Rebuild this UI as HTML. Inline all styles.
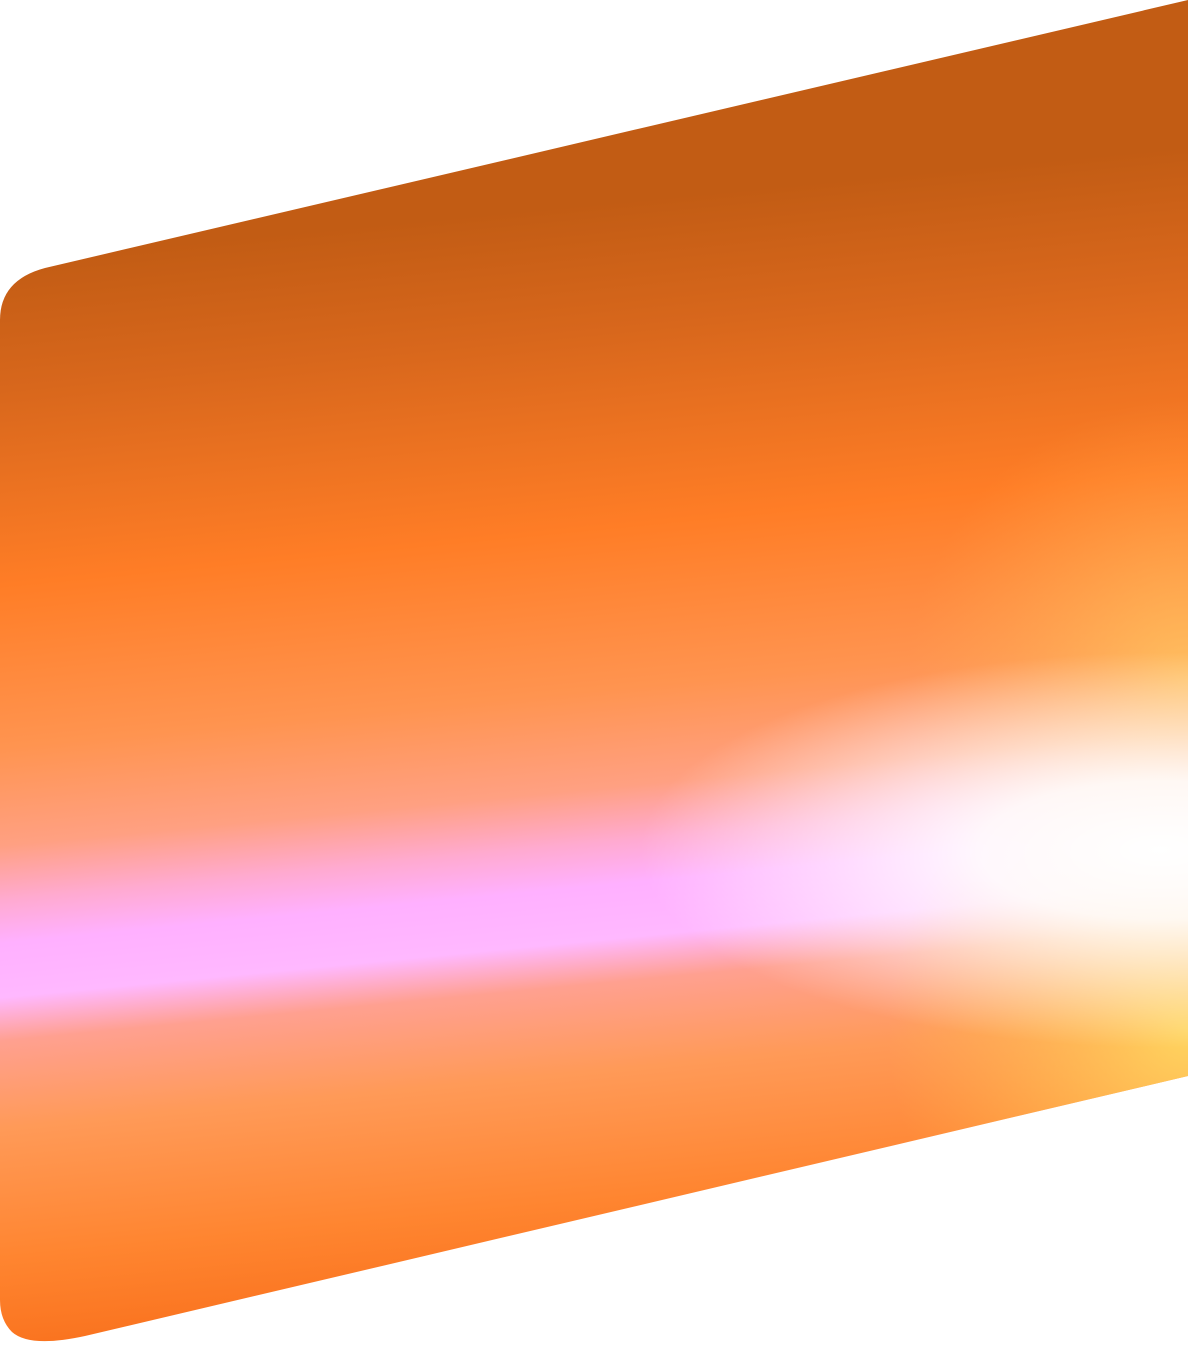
<!DOCTYPE html>
<html>
<head>
<meta charset="utf-8">
<style>
  html,body{margin:0;padding:0;background:#fff;}
  svg{display:block;}
</style>
</head>
<body>
<svg width="1188" height="1356" viewBox="0 0 1188 1356" xmlns="http://www.w3.org/2000/svg">
  <defs>
    <linearGradient id="base" gradientUnits="userSpaceOnUse" x1="0" y1="260" x2="0" y2="1345" gradientTransform="skewY(-5.5)">
      <stop offset="0" stop-color="#c25c14"/>
      <stop offset="0.12" stop-color="#d8671c"/>
      <stop offset="0.30" stop-color="#ff7d26"/>
      <stop offset="0.45" stop-color="#ff9450"/>
      <stop offset="0.54" stop-color="#ffa082"/>
      <stop offset="0.59" stop-color="#ffaad0"/>
      <stop offset="0.63" stop-color="#ffb0ff"/>
      <stop offset="0.68" stop-color="#ffb8ff"/>
      <stop offset="0.72" stop-color="#ffa090"/>
      <stop offset="0.80" stop-color="#ff9a58"/>
      <stop offset="0.92" stop-color="#ff8530"/>
      <stop offset="1" stop-color="#fa7420"/>
    </linearGradient>
    <radialGradient id="glow" gradientUnits="userSpaceOnUse" cx="1160" cy="850" r="520" gradientTransform="translate(1160 850) scale(1 0.38) translate(-1160 -850)">
      <stop offset="0" stop-color="#ffffff" stop-opacity="1"/>
      <stop offset="0.35" stop-color="#ffffff" stop-opacity="0.9"/>
      <stop offset="1" stop-color="#ffffff" stop-opacity="0"/>
    </radialGradient>
    <radialGradient id="yellow1" gradientUnits="userSpaceOnUse" cx="1188" cy="1030" r="300">
      <stop offset="0" stop-color="#ffd860" stop-opacity="0.95"/>
      <stop offset="1" stop-color="#ffc050" stop-opacity="0"/>
    </radialGradient>
    <radialGradient id="yellow2" gradientUnits="userSpaceOnUse" cx="1188" cy="680" r="280">
      <stop offset="0" stop-color="#ffd060" stop-opacity="0.7"/>
      <stop offset="1" stop-color="#ffb050" stop-opacity="0"/>
    </radialGradient>
    <clipPath id="shape">
      <path d="M0 320 Q0 280 45 268 L1188 0 L1188 1076 L85 1336 Q30 1348 12 1332 Q0 1320 0 1300 Z"/>
    </clipPath>
  </defs>
  <g clip-path="url(#shape)">
    <rect x="0" y="0" width="1188" height="1356" fill="url(#base)"/>
    <rect x="0" y="0" width="1188" height="1356" fill="url(#yellow2)"/>
    <rect x="0" y="0" width="1188" height="1356" fill="url(#yellow1)"/>
    <rect x="0" y="0" width="1188" height="1356" fill="url(#glow)"/>
  </g>
</svg>
</body>
</html>
